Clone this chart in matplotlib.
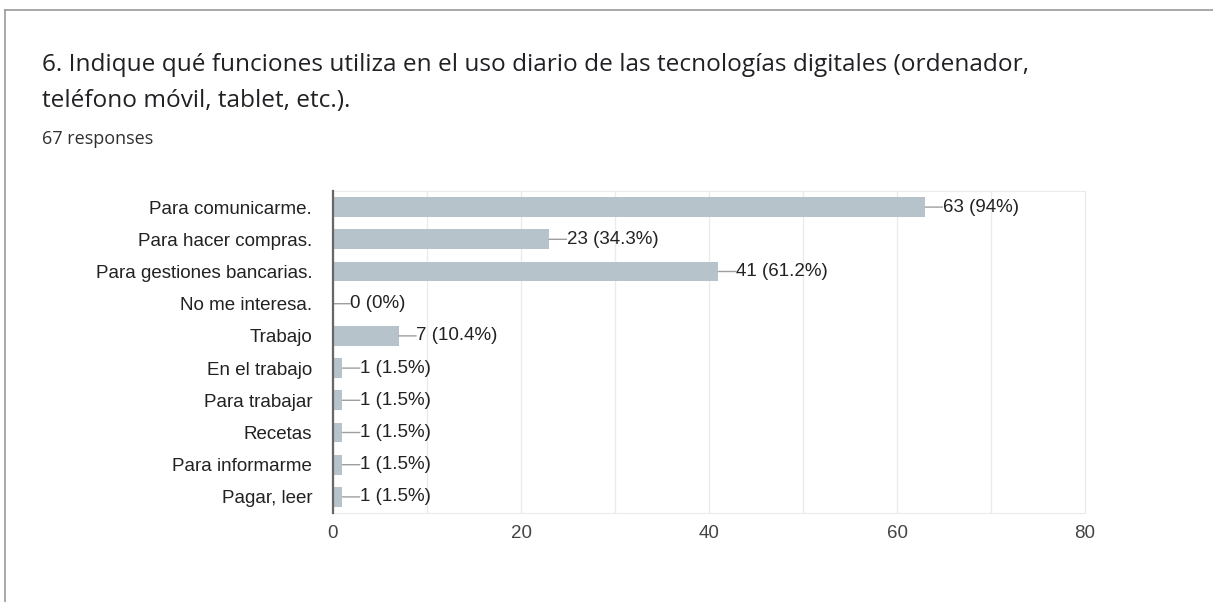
import matplotlib.pyplot as plt
from matplotlib.lines import Line2D

categories = ['Para comunicarme.', 'Para hacer compras.', 'Para gestiones bancarias.',
              'No me interesa.', 'Trabajo', 'En el trabajo', 'Para trabajar',
              'Recetas', 'Para informarme', 'Pagar, leer']
counts = [63, 23, 41, 0, 7, 1, 1, 1, 1, 1]
percents = ['94%', '34.3%', '61.2%', '0%', '10.4%', '1.5%', '1.5%', '1.5%', '1.5%', '1.5%']
xticks = [0, 20, 40, 60, 80]

fig = plt.figure(figsize=(12.13, 6.02), dpi=100)

# card border (top and left)
fig.add_artist(Line2D([5/1213, 1], [1 - 10/602, 1 - 10/602], color='#9a9a9a', lw=1.2))
fig.add_artist(Line2D([5/1213, 5/1213], [0, 1 - 10/602], color='#9a9a9a', lw=1.2))

fig.text(42/1213, 1 - 65/602, '6. Indique qué funciones utiliza en el uso diario de las tecnologías digitales (ordenador,',
         fontsize=17.6, family='Open Sans', color='#202124', va='center')
fig.text(42/1213, 1 - 101/602, 'teléfono móvil, tablet, etc.).',
         fontsize=17.6, family='Open Sans', color='#202124', va='center')
fig.text(42/1213, 1 - 139/602, '67 responses',
         fontsize=13, family='Open Sans', color='#303030', va='center')

ax = fig.add_axes([333/1213, 1 - 513/602, 752/1213, 322/602])
y = list(range(len(categories)))
ax.barh(y, counts, height=0.62, color='#b7c3cb', zorder=2)
ax.set_xlim(0, 80)
ax.set_ylim(len(categories) - 0.5, -0.5)
ax.set_yticks(y)
ax.set_yticklabels(categories, fontsize=13.5, family='Liberation Sans', color='#222222')
ax.set_xticks(xticks)
ax.set_xticks(range(10, 80, 20), minor=True)
ax.set_xticklabels([str(t) for t in xticks], fontsize=13.5, family='Liberation Sans', color='#444444')
ax.tick_params(axis='both', which='both', length=0)
ax.tick_params(axis='x', pad=9)
ax.tick_params(axis='y', pad=15)
ax.grid(axis='x', which='both', color='#ebebeb', lw=1, zorder=0)
for s in ['top', 'right', 'bottom']:
    ax.spines[s].set_color('#ebebeb')
ax.spines['left'].set_color('#666666')
ax.spines['left'].set_linewidth(1.6)
ax.spines['left'].set_zorder(3)

for yi, c, p in zip(y, counts, percents):
    ax.annotate('', xy=(c, yi), xytext=(12.5, 0), textcoords='offset points',
                arrowprops=dict(arrowstyle='-', color='#9e9e9e', lw=1, shrinkA=0, shrinkB=0))
    ax.annotate(f'{c} ({p})', xy=(c, yi), xytext=(12.5, 0), textcoords='offset points',
                va='center', ha='left', fontsize=13.5, family='Liberation Sans', color='#222222')

fig.savefig('out.png', dpi=100)
